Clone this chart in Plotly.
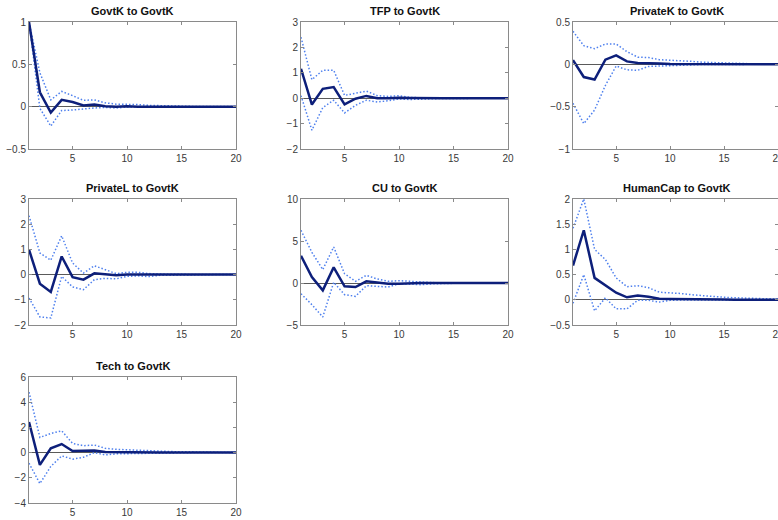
import plotly.graph_objects as go

# Horizon (periods after the shock)
periods = list(range(1, 21))

titles = [
    "GovtK to GovtK", "TFP to GovtK", "PrivateK to GovtK",
    "PrivateL to GovtK", "CU to GovtK", "HumanCap to GovtK",
    "Tech to GovtK",
]

# Impulse responses (point estimate) and confidence bands
govtk_irf = [1.0, 0.17, -0.07, 0.08, 0.055, 0.015, 0.025, 0.005, 0.0, 0.005,
             0.0, 0.0, 0.0, 0.0, 0.0, 0.0, 0.0, 0.0, 0.0, 0.0]
govtk_up = [1.0, 0.40, 0.08, 0.18, 0.13, 0.075, 0.08, 0.045, 0.03, 0.03,
            0.025, 0.015, 0.01, 0.005, 0.004, 0.003, 0.002, 0.002, 0.001, 0.001]
govtk_lo = [1.0, -0.02, -0.23, -0.045, -0.04, -0.025, -0.015, -0.01, -0.015, -0.005,
            -0.004, -0.003, -0.002, -0.001, -0.001, 0.0, 0.0, 0.0, 0.0, 0.0]

tfp_irf = [1.16, -0.25, 0.37, 0.44, -0.24, -0.02, 0.09, 0.0, 0.0, 0.02,
           0.01, 0.0, 0.0, 0.0, 0.0, 0.0, 0.0, 0.0, 0.0, 0.0]
tfp_up = [2.4, 0.73, 1.1, 1.1, 0.11, 0.2, 0.28, 0.1, 0.07, 0.1,
          0.03, 0.02, 0.02, 0.01, 0.01, 0.005, 0.005, 0.0, 0.0, 0.0]
tfp_lo = [0.1, -1.26, -0.37, -0.08, -0.58, -0.28, -0.08, -0.15, -0.1, -0.03,
          -0.05, -0.03, -0.02, -0.01, -0.01, -0.005, 0.0, 0.0, 0.0, 0.0]

privk_irf = [0.05, -0.15, -0.18, 0.055, 0.105, 0.035, 0.015, 0.015, 0.01, 0.005,
             0.004, 0.003, 0.002, 0.001, 0.0, 0.0, 0.0, 0.0, 0.0, 0.0]
privk_up = [0.39, 0.22, 0.185, 0.24, 0.24, 0.15, 0.085, 0.08, 0.055, 0.05,
            0.045, 0.035, 0.025, 0.02, 0.015, 0.01, 0.005, 0.005, 0.005, 0.005]
privk_lo = [-0.46, -0.70, -0.54, -0.25, -0.02, -0.065, -0.07, -0.025, -0.02, -0.015,
            -0.005, -0.003, -0.002, -0.001, 0.0, 0.0, 0.0, 0.0, 0.0, 0.0]

privl_irf = [0.99, -0.36, -0.69, 0.72, -0.1, -0.2, 0.05, 0.02, -0.03, 0.0,
             0.0, -0.01, 0.0, 0.0, 0.0, 0.0, 0.0, 0.0, 0.0, 0.0]
privl_up = [2.34, 0.86, 0.57, 1.54, 0.46, 0.06, 0.35, 0.2, 0.04, 0.09,
            0.09, 0.04, 0.02, 0.01, 0.01, 0.005, 0.0, 0.0, 0.0, 0.0]
privl_lo = [-0.93, -1.68, -1.72, -0.07, -0.49, -0.6, -0.2, -0.15, -0.17, -0.07,
            -0.05, -0.08, -0.03, -0.02, -0.01, -0.005, 0.0, 0.0, 0.0, 0.0]

cu_irf = [3.25, 0.71, -0.87, 1.87, -0.4, -0.48, 0.2, 0.08, -0.08, -0.08,
          0.0, 0.0, 0.0, 0.0, 0.0, 0.0, 0.0, 0.0, 0.0, 0.0]
cu_up = [6.27, 3.65, 1.59, 4.29, 1.1, 0.2, 0.91, 0.48, 0.2, 0.28,
         0.2, 0.1, 0.05, 0.03, 0.02, 0.01, 0.0, 0.0, 0.0, 0.0]
cu_lo = [-1.27, -2.58, -4.05, 0.08, -1.39, -1.59, -0.32, -0.4, -0.48, -0.08,
         -0.15, -0.2, -0.1, -0.05, -0.03, -0.01, 0.0, 0.0, 0.0, 0.0]

hcap_irf = [0.68, 1.38, 0.435, 0.28, 0.14, 0.05, 0.085, 0.06, 0.02, 0.015,
            0.01, 0.01, 0.005, 0.005, 0.004, 0.003, 0.002, 0.002, 0.001, 0.001]
hcap_up = [1.42, 2.0, 1.0, 0.8, 0.435, 0.26, 0.28, 0.24, 0.15, 0.14,
           0.125, 0.1, 0.08, 0.06, 0.05, 0.04, 0.03, 0.025, 0.02, 0.015]
hcap_lo = [-0.07, 0.5, -0.22, 0.04, -0.18, -0.18, -0.01, -0.01, -0.045, -0.01,
           -0.005, -0.003, -0.002, -0.001, 0.0, 0.0, 0.0, 0.0, 0.0, 0.0]

tech_irf = [2.43, -0.97, 0.34, 0.68, 0.13, 0.13, 0.16, 0.05, 0.03, 0.02,
            0.01, 0.01, 0.005, 0.0, 0.0, 0.0, 0.0, 0.0, 0.0, 0.0]
tech_up = [4.8, 1.2, 1.52, 1.73, 0.73, 0.55, 0.6, 0.34, 0.26, 0.24,
           0.2, 0.15, 0.12, 0.08, 0.06, 0.05, 0.04, 0.03, 0.02, 0.02]
tech_lo = [-0.84, -2.46, -1.1, -0.26, -0.52, -0.37, 0.0, -0.18, -0.1, -0.08,
           -0.05, -0.03, -0.02, -0.01, -0.005, 0.0, 0.0, 0.0, 0.0, 0.0]

irfs = [govtk_irf, tfp_irf, privk_irf, privl_irf, cu_irf, hcap_irf, tech_irf]
uppers = [govtk_up, tfp_up, privk_up, privl_up, cu_up, hcap_up, tech_up]
lowers = [govtk_lo, tfp_lo, privk_lo, privl_lo, cu_lo, hcap_lo, tech_lo]

y_ranges = [[-0.5, 1], [-2, 3], [-1, 0.5], [-2, 3], [-5, 10], [-0.5, 2], [-4, 6]]
y_dticks = [0.5, 1, 0.5, 1, 5, 0.5, 2]
x_ticks = [5, 10, 15, 20]

W, H = 778, 520
col_left = [29, 301, 573]
col_width = 207
row_top = [22, 199, 377]
row_bottom = [149, 325, 503]

MAIN = "#0d1f7a"
BAND = "#4f80ee"
AXIS = "#8a8a8a"
TEXT = "#3a3a3a"
FONT = "Liberation Sans, Arial, sans-serif"

fig = go.Figure()
layout = {}
annotations = []

for i, title in enumerate(titles):
    r, c = divmod(i, 3)
    n = i + 1
    xa = "x" if n == 1 else f"x{n}"
    ya = "y" if n == 1 else f"y{n}"
    x0 = col_left[c] / W
    x1 = min((col_left[c] + col_width) / W, 1.0)
    y0 = (H - row_bottom[r]) / H
    y1 = (H - row_top[r]) / H

    common = dict(
        showline=True, mirror="ticks", linecolor=AXIS, linewidth=1,
        ticks="inside", ticklen=3, tickcolor=AXIS, tickwidth=1,
        showgrid=False, automargin=False,
        tickfont=dict(family=FONT, size=10, color=TEXT),
    )
    layout[f"xaxis{n}"] = dict(
        domain=[x0, x1], anchor=ya, range=[1, 20],
        tickvals=x_ticks, zeroline=False, ticklabeloverflow="allow",
        **common,
    )
    layout[f"yaxis{n}"] = dict(
        domain=[y0, y1], anchor=xa, range=y_ranges[i],
        dtick=y_dticks[i], tick0=y_ranges[i][0],
        zeroline=True, zerolinecolor="#5a5a5a", zerolinewidth=1.2,
        **common,
    )

    for band in (uppers[i], lowers[i]):
        fig.add_trace(go.Scatter(
            x=periods, y=band, xaxis=xa, yaxis=ya, mode="lines",
            line=dict(color=BAND, width=1.5, dash="1.5px,2px"),
            showlegend=False,
        ))
    fig.add_trace(go.Scatter(
        x=periods, y=irfs[i], xaxis=xa, yaxis=ya, mode="lines",
        line=dict(color=MAIN, width=2.5), showlegend=False,
    ))

    annotations.append(dict(
        text=f"<b>{title}</b>", xref="paper", yref="paper",
        x=(col_left[c] + col_width / 2) / W, y=y1,
        xanchor="center", yanchor="bottom", yshift=3, showarrow=False,
        font=dict(family=FONT, size=11, color="#111111"),
    ))

fig.update_layout(
    width=W, height=H,
    margin=dict(l=0, r=0, t=0, b=0),
    paper_bgcolor="white", plot_bgcolor="white",
    annotations=annotations,
    **layout,
)

fig.write_html("out.html")
